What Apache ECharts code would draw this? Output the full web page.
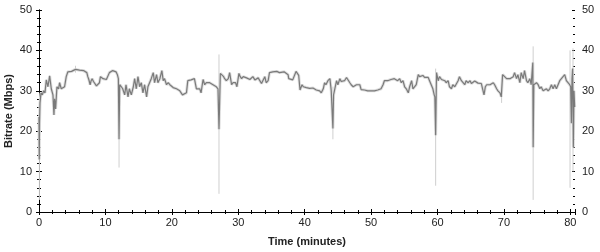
<!DOCTYPE html>
<html><head><meta charset="utf-8">
<script src="https://cdn.jsdelivr.net/npm/echarts@6/dist/echarts.min.js"></script>
<style>html,body{margin:0;padding:0;background:#fff}#c{width:600px;height:252px}</style>
</head><body><div id="c"></div>
<script>
// Time (minutes) and bitrate (Mbps) of the average line
const timeMin = [0.00,0.04,0.08,0.15,0.3,0.5,0.7,0.9,1.1,1.35,1.6,1.85,2.1,2.25,2.35,2.5,2.7,2.95,3.1,3.35,3.6,3.85,4.1,4.35,4.6,4.9,5.2,5.5,5.8,6.1,6.4,6.7,7.0,7.2,7.35,7.5,7.7,7.85,8.0,8.2,8.4,8.65,8.9,9.1,9.25,9.4,9.65,9.9,10.15,10.4,10.6,10.85,11.1,11.35,11.6,11.8,11.95,12.05,12.15,12.4,12.6,12.9,13.1,13.4,13.6,13.9,14.2,14.4,14.65,14.9,15.15,15.4,15.65,15.9,16.2,16.4,16.7,16.9,17.2,17.4,17.7,17.9,18.2,18.5,18.7,18.9,19.2,19.45,19.7,19.95,20.2,20.45,20.7,20.95,21.2,21.4,21.6,21.9,22.2,22.4,22.65,22.9,23.2,23.4,23.7,23.9,24.2,24.4,24.7,24.95,25.2,25.45,25.7,25.95,26.2,26.45,26.7,26.95,27.1,27.3,27.6,27.8,27.95,28.2,28.5,28.7,29.0,29.2,29.4,29.6,29.8,30.1,30.3,30.5,30.75,31.0,31.25,31.5,31.75,32.0,32.2,32.5,32.75,33.0,33.2,33.5,33.7,34.0,34.2,34.5,34.7,35.0,35.2,35.5,35.8,36.2,36.5,36.9,37.2,37.5,37.6,37.9,38.2,38.5,38.7,38.9,39.1,39.3,39.6,39.8,40.0,40.25,40.5,40.75,41.0,41.25,41.5,41.75,42.0,42.25,42.5,42.8,43.0,43.2,43.5,43.8,44.0,44.25,44.35,44.5,44.8,45.0,45.3,45.5,45.7,46.0,46.3,46.5,46.8,47.0,47.3,47.55,47.8,48.05,48.3,48.5,48.75,49.0,49.25,49.5,49.75,50.0,50.25,50.5,50.75,51.0,51.25,51.5,51.8,52.0,52.25,52.5,52.75,53.0,53.25,53.5,53.75,54.0,54.3,54.55,54.8,55.05,55.3,55.6,55.8,56.1,56.3,56.6,56.8,57.1,57.3,57.55,57.8,58.05,58.3,58.6,58.8,59.1,59.3,59.5,59.6,59.72,59.85,60.1,60.3,60.6,60.8,61.1,61.3,61.6,61.8,62.1,62.3,62.6,62.8,63.1,63.3,63.6,63.8,64.1,64.3,64.6,64.9,65.1,65.3,65.6,65.85,66.1,66.4,66.6,66.8,67.0,67.2,67.4,67.65,67.9,68.15,68.4,68.6,68.9,69.1,69.4,69.6,69.8,70.1,70.4,70.65,70.9,71.15,71.4,71.6,71.9,72.1,72.4,72.6,72.9,73.1,73.4,73.6,73.9,74.1,74.35,74.4,74.5,74.65,74.9,75.15,75.4,75.6,75.9,76.15,76.4,76.65,76.9,77.15,77.4,77.65,77.9,78.15,78.4,78.65,78.9,79.15,79.4,79.65,79.9,80.05,80.15,80.25,80.35,80.45,80.55,80.65];
const bitrate = [23.5,13,22,27,29.5,29,30,29.5,32.7,31,33.7,30.5,29,24,28,25.5,31,30.5,32,30.5,30.8,31,33.5,34.7,35,34.8,35.1,35.3,35,35.1,34.9,35,34.8,34.5,33.5,32.8,31.5,32.5,33,32.3,32,31.2,31.5,32,33.5,33.5,33,33,32.8,32.5,34.5,34.7,35,34.6,34.7,34,33,18,31.5,31,30.5,29,31.5,28.5,30.5,29,31,33,30.5,33.5,31,32,29.5,31.5,28.5,31,31,33,34.5,32,34,32,33,35,32.5,33,31.5,32,31.5,31.2,30.8,31,30.5,30.2,30,29.5,29,29,29.5,32.5,32.2,32.7,32.5,33,30.5,30.5,30.5,29.5,32.8,31.5,32,31.6,32,31.7,31.5,31.2,31,30.5,20.5,34.3,34.5,33.5,33,32.5,33,34.5,31.5,32,32.2,32,31,34.3,33.5,33,33.5,33.5,33.2,33,32.8,32.5,33.5,32.7,33,33.2,33.5,31.8,32.5,33.5,32,32.5,34.5,34.6,34.7,34.5,34.8,34.5,34.7,34.7,34.4,34,33,33,32.7,33,34.8,34.3,33.8,30.2,31.5,31,31,30.8,30.8,30.6,30.5,30.7,30.5,30.2,30,30,29.5,30.5,32,31.5,32.5,33,30,20.7,29,29,32.5,31.5,33,32.3,32,32.5,33.3,33.5,32,31.5,31,31.3,31.5,31.3,31.5,30.3,30.2,30.2,30,30,30.1,30,29.8,30,30.1,30.2,29.9,30.5,31.5,32.5,32.2,32.5,32.4,32.8,32.5,33,32.7,32.5,33,32,32.5,31,30.5,29.5,31,32.5,30.5,30.5,31.5,34,33.5,33.8,33.8,33.3,33,33.3,32.5,32.7,30.5,29,28.5,19,34.5,32.5,33.5,32.8,33,32.5,32,32.5,31,30.5,31.5,31,31,32.5,33.5,32.5,32.7,31.5,32.5,32,32.5,31.8,32,32.4,32.3,31.9,32,31.8,32,29,31,31.5,31.3,31.5,31.8,32,31.5,30.5,30,29.5,28.5,34,33.5,33,33.2,33,33.2,33.5,34.5,33,34,32,34.5,33,35,32.5,32,33,31.5,37,16,31.5,31.5,32,31.5,30.5,31,30,30.3,30.5,30,30.5,31.5,30.5,31.5,30.5,31.5,32.5,33,33.5,34,32.5,32,31.5,31,22,33,35.5,16,30,26];
// Short peaks of the min/max envelope: time, low, high
const peakTime = [0.06,5.5,12.05,27.1,44.25,59.72,69.65,74.4,79.95,80.4];
const peakLow  = [3,34.5,11,4.5,18,6.5,27,3,6,10];
const peakHigh = [24,36.2,33,39,31,35.5,30,41,40,40.5];
// Axis ticks
const yTicks = [0,10,20,30,40,50];
const xTicks = [0,10,20,30,40,50,60,70,80];

const lineData = timeMin.map((t,i)=>[t,bitrate[i]]);
const peakData = peakTime.map((t,i)=>[t,peakLow[i],peakHigh[i]]);
const FONT = 'Liberation Sans';
const lab = {color:'#222',fontSize:11,fontFamily:FONT};
const XMAX = 80.7;
const xFmt = v => xTicks.includes(v) ? String(v) : '';
const yFmt = v => yTicks.includes(v) ? String(v) : '';
const lineC = '#000';
function xa(pos, show, inside, lbl, extra){
  return Object.assign({type:'value',position:pos,min:0,max:XMAX,interval:10,
    axisLine:{show:show,lineStyle:{color:lineC,width:1}},
    axisTick:{show:true,inside:inside,length:3,lineStyle:{color:lineC}},
    minorTick:{show:true,splitNumber:5,length:2,lineStyle:{color:lineC}},
    splitLine:{show:false},minorSplitLine:{show:false},
    axisLabel:lbl?Object.assign({show:true,formatter:xFmt,margin:5},lab):{show:false}},extra||{});
}
function ya(pos, show, inside, lbl, extra){
  return Object.assign({type:'value',position:pos,min:0,max:50,interval:10,
    axisLine:{show:show,lineStyle:{color:lineC,width:1}},
    axisTick:{show:true,inside:inside,length:3,lineStyle:{color:lineC}},
    minorTick:{show:true,splitNumber:5,length:2,lineStyle:{color:lineC}},
    splitLine:{show:false},minorSplitLine:{show:false},
    axisLabel:lbl?Object.assign({show:true,formatter:yFmt,margin:7},lab):{show:false}},extra||{});
}
const chart = echarts.init(document.getElementById('c'),null,{renderer:'canvas'});
chart.setOption({
  animation:false,
  backgroundColor:'#fff',
  grid:{left:39,right:25,top:10,bottom:40,containLabel:false,outerBoundsMode:'none'},
  xAxis:[
    xa('bottom',true,false,true,{name:'Time (minutes)',nameLocation:'middle',nameGap:24,nameMoveOverlap:false,
      nameTextStyle:{fontFamily:FONT,fontSize:11,fontWeight:'bold',color:'#222'}}),
    xa('bottom',false,true,false),
    xa('top',true,true,false)
  ],
  yAxis:[
    ya('left',true,false,true,{name:'Bitrate (Mbps)',nameLocation:'middle',nameGap:25,nameRotate:90,nameMoveOverlap:false,
      nameTextStyle:{fontFamily:FONT,fontSize:11,fontWeight:'bold',color:'#222'}}),
    ya('left',false,true,false),
    ya('right',true,false,true),
    ya('right',false,true,false)
  ],
  series:[
    {type:'custom',xAxisIndex:0,yAxisIndex:0,data:peakData,encode:{x:0,y:[1,2]},z:1,
      renderItem:function(params,api){
        const a=api.coord([api.value(0),api.value(1)]);
        const b=api.coord([api.value(0),api.value(2)]);
        return {type:'line',shape:{x1:a[0],y1:a[1],x2:b[0],y2:b[1]},style:{stroke:'#cfcfcf',lineWidth:1}};
      }},
    {type:'line',xAxisIndex:0,yAxisIndex:0,data:lineData,showSymbol:false,z:2,
      lineStyle:{color:'#dedede',width:3},silent:true},
    {type:'line',xAxisIndex:0,yAxisIndex:0,data:lineData,showSymbol:false,z:3,
      lineStyle:{color:'#7a7a7a',width:1.2}}
  ]
});
</script></body></html>
